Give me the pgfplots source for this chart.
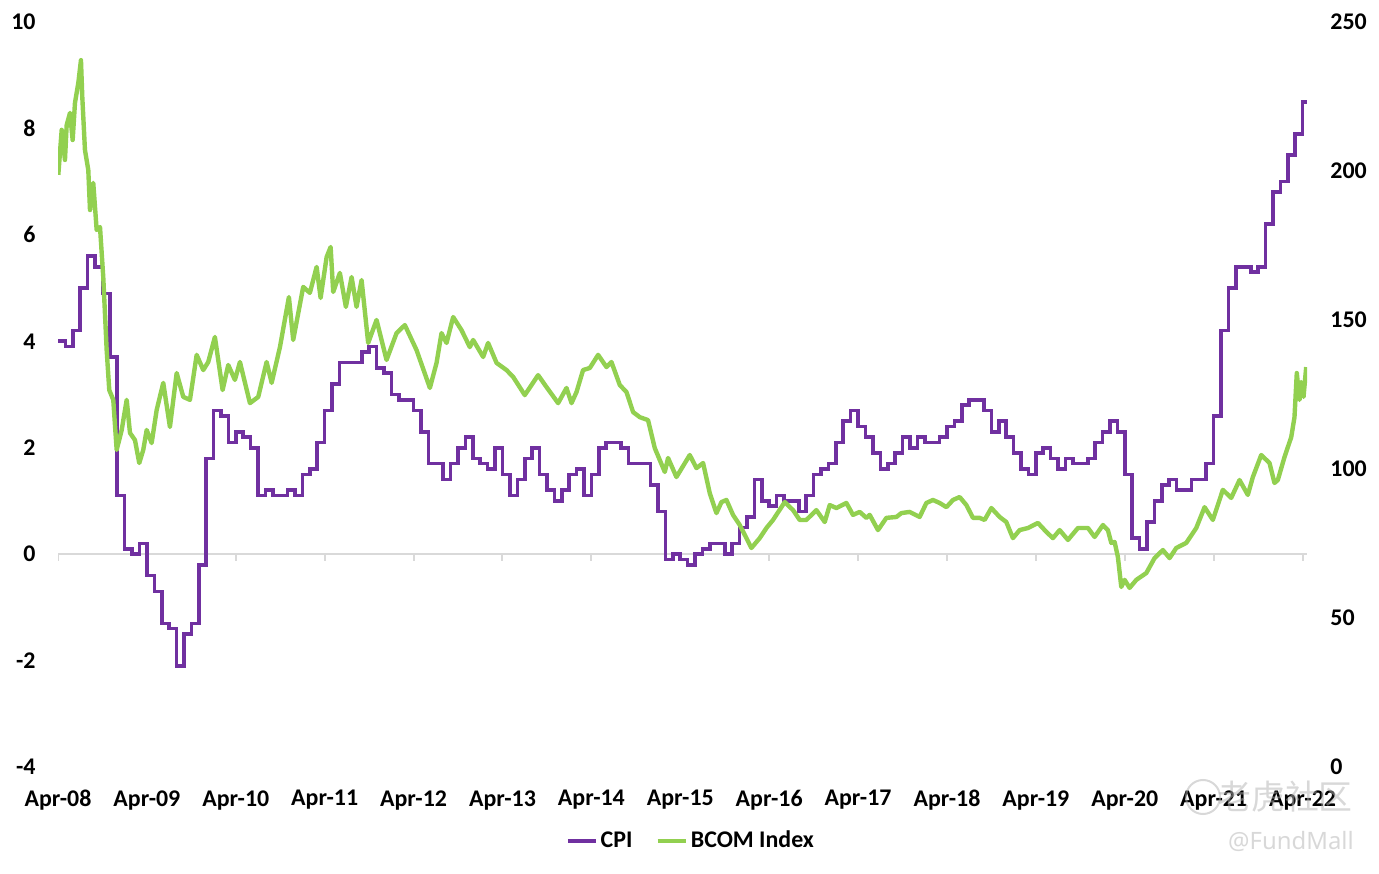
\documentclass[border=0pt]{standalone}
\usepackage{pgfplots}
\pgfplotsset{compat=1.18}
\usepackage{fontspec}
\setmainfont{Carlito}
\newfontfamily\cjk{Noto Sans CJK SC}
\newfontfamily\wm{Noto Sans}
\definecolor{cpi}{RGB}{112,48,160}
\definecolor{bcom}{RGB}{146,208,80}
\definecolor{basegray}{RGB}{217,217,217}

\pgfplotstableread{
m v
0 4.0
1 3.9
2 4.2
3 5.0
4 5.6
5 5.4
6 4.9
7 3.7
8 1.1
9 0.1
10 0.0
11 0.2
12 -0.4
13 -0.7
14 -1.3
15 -1.4
16 -2.1
17 -1.5
18 -1.3
19 -0.2
20 1.8
21 2.7
22 2.6
23 2.1
24 2.3
25 2.2
26 2.0
27 1.1
28 1.2
29 1.1
30 1.1
31 1.2
32 1.1
33 1.5
34 1.6
35 2.1
36 2.7
37 3.2
38 3.6
39 3.6
40 3.6
41 3.8
42 3.9
43 3.5
44 3.4
45 3.0
46 2.9
47 2.9
48 2.7
49 2.3
50 1.7
51 1.7
52 1.4
53 1.7
54 2.0
55 2.2
56 1.8
57 1.7
58 1.6
59 2.0
60 1.5
61 1.1
62 1.4
63 1.8
64 2.0
65 1.5
66 1.2
67 1.0
68 1.2
69 1.5
70 1.6
71 1.1
72 1.5
73 2.0
74 2.1
75 2.1
76 2.0
77 1.7
78 1.7
79 1.7
80 1.3
81 0.8
82 -0.1
83 0.0
84 -0.1
85 -0.2
86 0.0
87 0.1
88 0.2
89 0.2
90 0.0
91 0.2
92 0.5
93 0.7
94 1.4
95 1.0
96 0.9
97 1.1
98 1.0
99 1.0
100 0.8
101 1.1
102 1.5
103 1.6
104 1.7
105 2.1
106 2.5
107 2.7
108 2.4
109 2.2
110 1.9
111 1.6
112 1.7
113 1.9
114 2.2
115 2.0
116 2.2
117 2.1
118 2.1
119 2.2
120 2.4
121 2.5
122 2.8
123 2.9
124 2.9
125 2.7
126 2.3
127 2.5
128 2.2
129 1.9
130 1.6
131 1.5
132 1.9
133 2.0
134 1.8
135 1.6
136 1.8
137 1.7
138 1.7
139 1.8
140 2.1
141 2.3
142 2.5
143 2.3
144 1.5
145 0.3
146 0.1
147 0.6
148 1.0
149 1.3
150 1.4
151 1.2
152 1.2
153 1.4
154 1.4
155 1.7
156 2.6
157 4.2
158 5.0
159 5.4
160 5.4
161 5.3
162 5.4
163 6.2
164 6.8
165 7.0
166 7.5
167 7.9
168 8.5
168.6 8.5
}\cpidata

\pgfplotstableread{
m v
0.04 198.7
0.50 213.8
0.94 203.7
1.17 215.4
1.62 219.5
1.98 210.4
2.29 222.8
2.74 229.5
3.10 237.2
3.28 224.8
3.64 207.0
4.09 200.3
4.32 186.9
4.76 196.0
5.22 180.2
5.67 181.2
6.11 164.4
6.57 139.9
6.92 126.5
7.46 123.2
7.92 106.4
8.60 113.1
9.27 123.2
9.72 112.1
10.39 109.7
10.97 102.0
11.51 106.4
11.97 113.1
12.64 108.7
13.32 119.8
14.21 128.9
15.11 114.1
16.02 132.2
16.91 124.2
17.81 123.2
18.72 138.3
19.61 133.2
20.28 135.9
21.18 144.3
22.22 126.5
22.98 134.9
23.88 129.9
24.56 135.9
25.91 122.1
27.03 124.2
28.16 135.9
28.84 128.9
29.96 140.9
31.17 157.7
31.75 143.3
33.10 161.1
34.00 159.1
34.91 167.8
35.45 157.4
36.26 171.1
36.80 174.5
37.15 159.4
38.05 165.8
38.86 154.4
39.63 164.4
40.30 154.4
40.98 163.4
41.87 142.3
43.00 150.0
44.35 136.6
45.70 145.6
46.82 148.3
48.40 139.9
50.20 127.2
51.10 135.6
51.77 145.6
52.45 142.3
53.34 151.0
54.47 146.6
55.59 140.9
56.04 143.3
57.39 137.6
58.06 142.3
59.20 135.6
60.54 133.2
61.44 130.9
63.01 124.8
64.81 131.5
65.94 127.5
67.51 122.1
68.64 127.2
69.32 122.1
69.99 125.8
70.88 133.2
71.79 133.9
72.91 138.3
74.04 134.2
74.71 135.9
75.83 128.2
76.74 125.8
77.63 119.1
78.53 117.4
79.65 116.4
80.56 107.0
81.91 99.0
82.35 103.7
83.48 97.3
85.28 104.7
86.18 100.3
87.08 102.0
87.98 91.9
88.88 85.2
89.56 88.9
90.23 89.6
91.12 84.6
92.03 81.2
93.60 73.5
94.72 76.8
95.63 80.2
96.52 82.9
98.10 88.9
99.22 86.2
100.12 82.9
101.02 82.9
102.37 86.2
103.50 82.2
104.17 87.9
105.07 86.9
106.42 88.6
107.31 84.6
108.22 85.6
109.12 83.6
109.57 84.6
110.69 79.5
111.82 83.6
113.17 83.9
113.84 85.2
114.96 85.6
116.31 83.9
117.22 88.6
118.11 89.6
119.01 88.6
119.92 87.2
120.81 89.6
121.71 90.6
122.62 87.9
123.51 83.6
124.41 83.6
125.08 82.9
125.99 86.9
127.11 83.9
128.01 82.2
128.90 76.8
129.81 79.5
130.93 80.2
132.28 81.9
133.41 78.9
134.30 76.8
135.21 79.5
136.33 76.2
137.68 80.2
139.03 80.2
139.93 77.2
141.05 81.2
141.72 79.5
142.18 75.2
142.63 75.5
143.07 70.5
143.53 60.4
143.98 62.8
144.65 60.1
145.56 62.8
146.91 65.1
148.02 70.1
149.14 72.8
150.05 70.1
150.95 73.5
152.30 75.2
153.65 80.2
154.77 87.2
155.89 82.9
157.24 93.0
158.37 90.3
159.49 96.3
160.61 91.3
161.29 97.3
162.42 104.7
163.54 102.0
164.21 95.3
164.66 96.3
165.56 104.0
166.47 110.7
166.91 117.4
167.22 132.2
167.59 123.2
167.82 129.2
168.13 124.2
168.49 134.2
}\bcomdata

\begin{document}
\begin{tikzpicture}
\path[use as bounding box] (-29bp,-53.5bp) rectangle (660.5bp,383.5bp);
\begin{axis}[
  at={(0,0)}, anchor=south west,
  scale only axis, width=624.5bp, height=372.5bp,
  xmin=0, xmax=168.6, ymin=-4, ymax=10,
  axis x line*=bottom, axis y line*=left,
  axis line style={draw=none},
  major tick length=0pt,
  xtick={0,12,...,168},
  xticklabels={Apr-08,Apr-09,Apr-10,Apr-11,Apr-12,Apr-13,Apr-14,Apr-15,Apr-16,Apr-17,Apr-18,Apr-19,Apr-20,Apr-21,Apr-22},
  ytick={-4,-2,0,2,4,6,8,10},
  yticklabels={-4,-2,0,2,4,6,8,10},
  tick label style={font=\fontsize{12}{14}\selectfont\bfseries, inner sep=0pt},
  xticklabel style={anchor=north, yshift=-11.5bp},
  yticklabel style={anchor=east, xshift=-11bp},
  legend style={at={(0.5,0)}, anchor=center, yshift=-37bp, xshift=4.5bp,
    draw=none, fill=none, inner sep=0pt,
    font=\fontsize{12}{14}\selectfont\bfseries,
    nodes={inner sep=1.5bp},
    /tikz/every even column/.append style={column sep=10bp}},
  legend columns=2,
  legend image code/.code={\draw[#1] (0bp,0bp) -- (14bp,0bp);},
]
\draw[basegray, line width=1bp] (axis cs:0,0) -- (axis cs:168.6,0);
\pgfplotsinvokeforeach{0,12,...,168}{
  \draw[basegray, line width=1bp] (axis cs:#1,0) -- ([yshift=-3.5bp]axis cs:#1,0);
}
\addplot[cpi, line width=1.8bp, const plot] table[x=m, y=v] {\cpidata};
\addlegendentry{CPI}
\addlegendimage{bcom, line width=2.2bp}
\addlegendentry{BCOM Index}
\end{axis}
\begin{axis}[
  at={(0,0)}, anchor=south west,
  scale only axis, width=624.5bp, height=372.5bp,
  xmin=0, xmax=168.6, ymin=0, ymax=250,
  axis x line=none, axis y line*=right,
  axis line style={draw=none},
  major tick length=0pt,
  ytick={0,50,100,150,200,250},
  yticklabels={0,50,100,150,200,250},
  tick label style={font=\fontsize{12}{14}\selectfont\bfseries, inner sep=0pt},
  yticklabel style={anchor=west, xshift=11.5bp},
]
\addplot[bcom, line width=2.2bp, line join=round] table[x=m, y=v] {\bcomdata};
\end{axis}
\begin{scope}[opacity=0.5]
\draw[gray!60, line width=1bp] (572.5bp,-15bp) circle (8.5bp);
\node[text=gray!60, font=\cjk\fontsize{17}{17}\selectfont] at (613.5bp,-15bp) {老虎社区};
\node[text=gray!60, font=\wm\fontsize{12}{12}\selectfont] at (616.5bp,-37bp) {@FundMall};
\end{scope}
\end{tikzpicture}
\end{document}
